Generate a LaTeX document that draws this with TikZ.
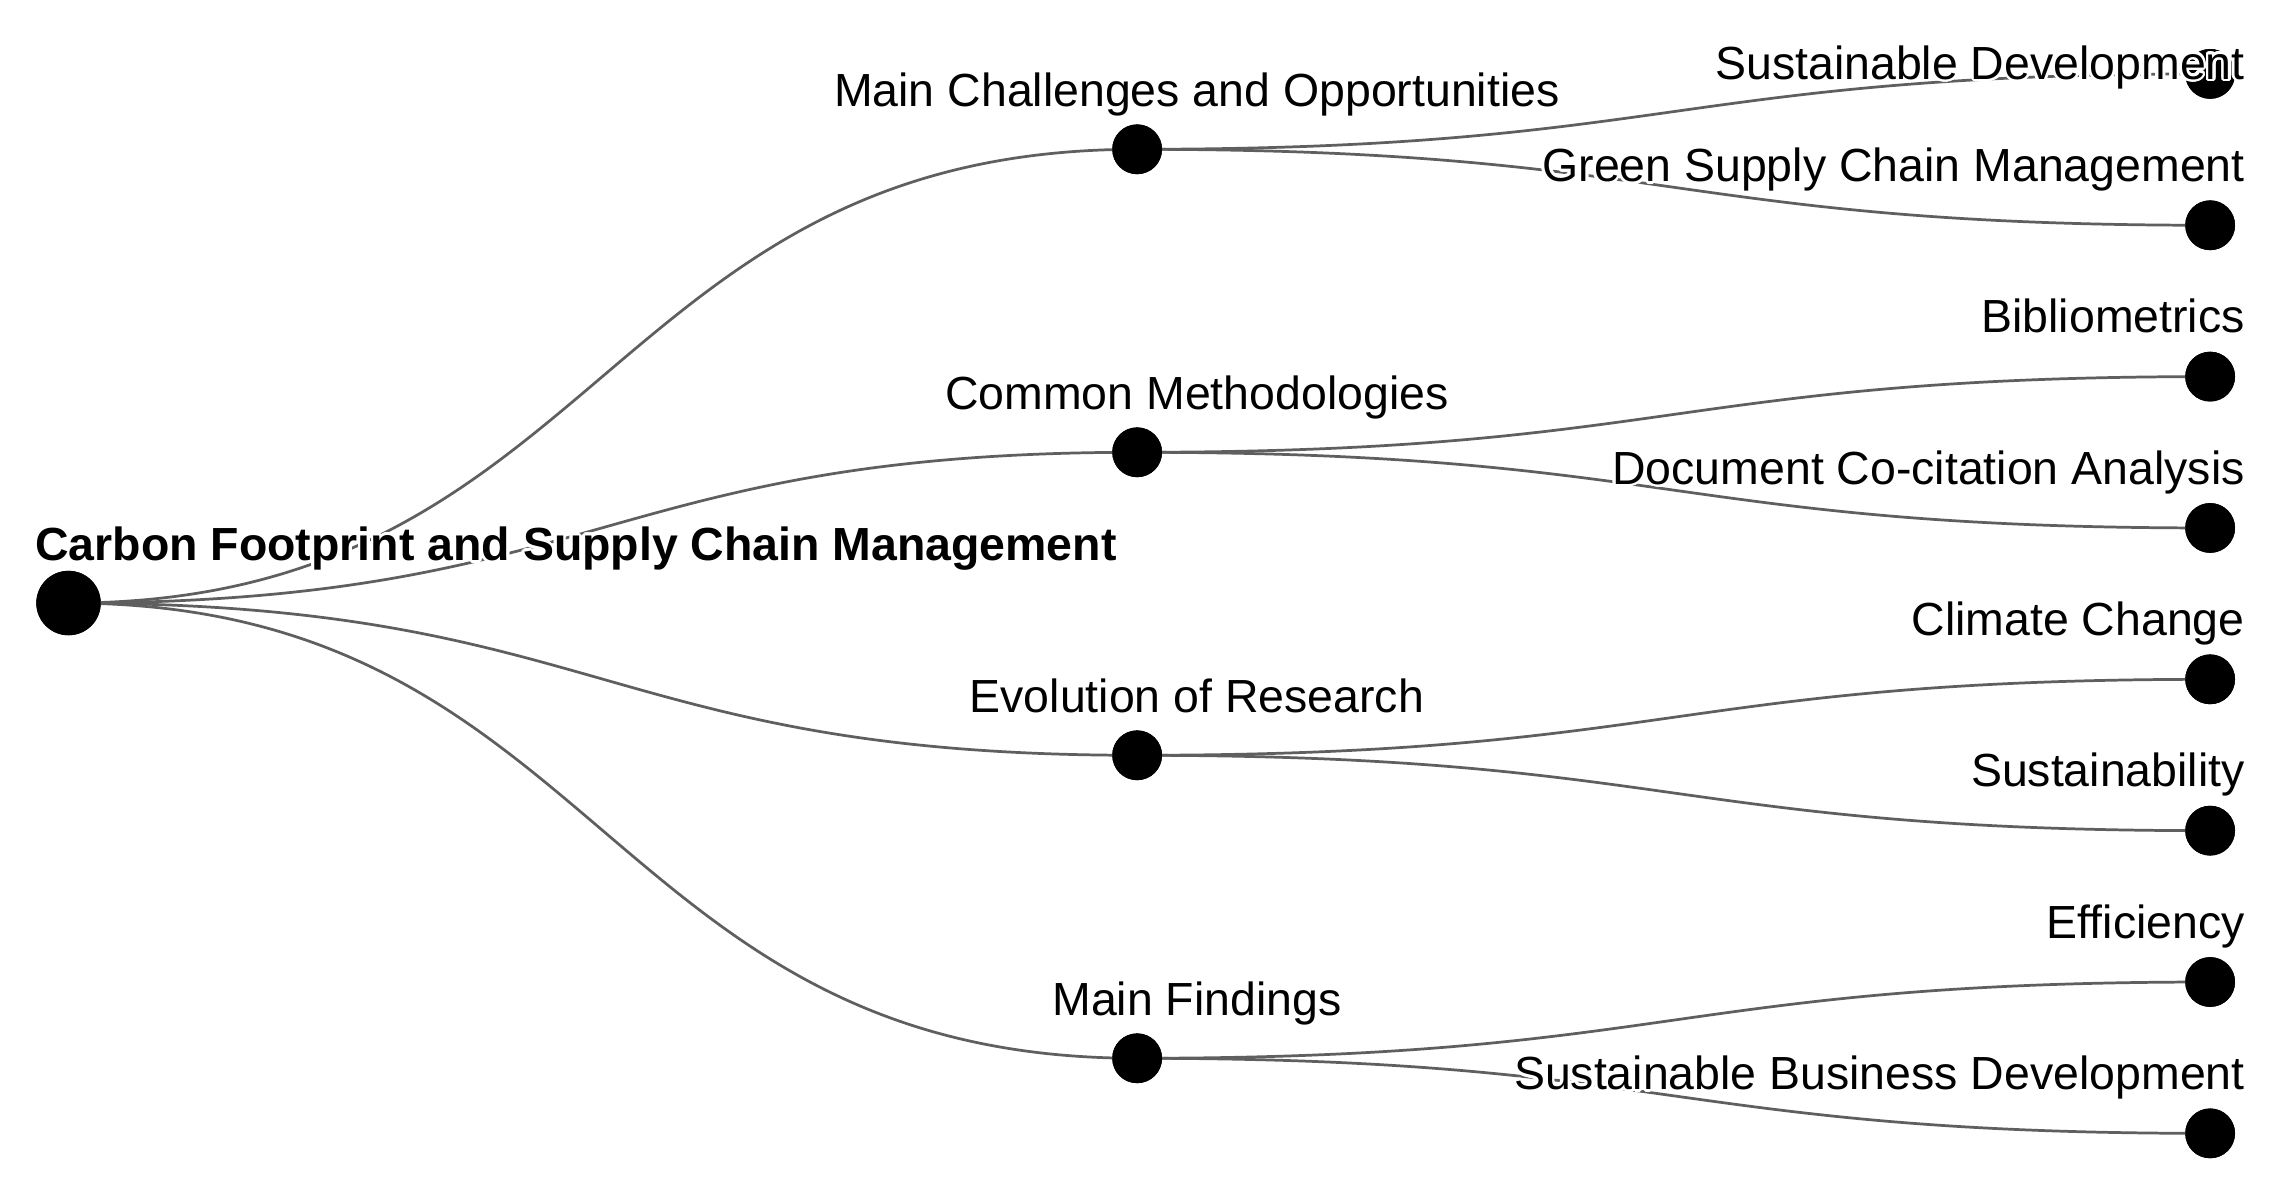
\documentclass[tikz,border=0pt]{standalone}
\usepackage{fontspec}
\setmainfont{Liberation Sans}
\usepackage{contour}
\contourlength{1.4pt}
\contournumber{24}
\definecolor{edgegray}{RGB}{95,95,95}
\newcommand{\halo}[1]{\contour{white}{#1}}
\begin{document}
\begin{tikzpicture}[x=0.747pt,y=-0.75pt,
  rootdot/.style={circle,fill=black,inner sep=0pt,minimum size=33pt},
  dot/.style={circle,fill=black,inner sep=0pt,minimum size=25.5pt},
  lbl/.style={font=\fontsize{23.8pt}{28pt}\selectfont,inner sep=0pt},
  edge/.style={draw=edgegray,line width=1.4pt}]
\fill[white] (0,0) rectangle (1566,816);
\useasboundingbox (0,0) rectangle (1566,816);
% nodes
\node[rootdot] (root) at (47,412) {};
\node[dot] (c1) at (780,102) {};
\node[dot] (c2) at (780,309) {};
\node[dot] (c3) at (780,516) {};
\node[dot] (c4) at (780,723) {};
\node[dot] (l1) at (1516,50.5) {};
\node[dot] (l2) at (1516,153.9) {};
\node[dot] (l3) at (1516,257.3) {};
\node[dot] (l4) at (1516,360.7) {};
\node[dot] (l5) at (1516,464.1) {};
\node[dot] (l6) at (1516,567.5) {};
\node[dot] (l7) at (1516,670.9) {};
\node[dot] (l8) at (1516,774.3) {};
% edges
\foreach \c in {c1,c2,c3,c4}
  \draw[edge] (root.center) .. controls +(366.5,0) and +(-366.5,0) .. (\c.center);
\draw[edge] (c1.center) .. controls +(368,0) and +(-368,0) .. (l1.center);
\draw[edge] (c1.center) .. controls +(368,0) and +(-368,0) .. (l2.center);
\draw[edge] (c2.center) .. controls +(368,0) and +(-368,0) .. (l3.center);
\draw[edge] (c2.center) .. controls +(368,0) and +(-368,0) .. (l4.center);
\draw[edge] (c3.center) .. controls +(368,0) and +(-368,0) .. (l5.center);
\draw[edge] (c3.center) .. controls +(368,0) and +(-368,0) .. (l6.center);
\draw[edge] (c4.center) .. controls +(368,0) and +(-368,0) .. (l7.center);
\draw[edge] (c4.center) .. controls +(368,0) and +(-368,0) .. (l8.center);
% dots on top of edges
\foreach \n in {c1,c2,c3,c4,l1,l2,l3,l4,l5,l6,l7,l8}
  \fill[black] (\n.center) circle (12.75pt);
\fill[black] (root.center) circle (16.5pt);
% labels
\node[lbl,anchor=base west] (troot) at (24,383) {\halo{\textbf{Carbon Footprint and Supply Chain Management}}};
\node[lbl,anchor=base] (tc1) at (821,73) {\halo{Main Challenges and Opportunities}};
\node[lbl,anchor=base] (tc2) at (821,280) {\halo{Common Methodologies}};
\node[lbl,anchor=base] (tc3) at (821,487) {\halo{Evolution of Research}};
\node[lbl,anchor=base] (tc4) at (821,694) {\halo{Main Findings}};
\node[lbl,anchor=base east] (tl1) at (1540,54) {\halo{Sustainable Development}};
\node[lbl,anchor=base east] (tl2) at (1540,124) {\halo{Green Supply Chain Management}};
\node[lbl,anchor=base east] (tl3) at (1540,227.3) {\halo{Bibliometrics}};
\node[lbl,anchor=base east] (tl4) at (1540,330.7) {\halo{Document Co-citation Analysis}};
\node[lbl,anchor=base east] (tl5) at (1540,434.1) {\halo{Climate Change}};
\node[lbl,anchor=base east] (tl6) at (1540,537.5) {\halo{Sustainability}};
\node[lbl,anchor=base east] (tl7) at (1540,640.9) {\halo{Efficiency}};
\node[lbl,anchor=base east] (tl8) at (1540,744.3) {\halo{Sustainable Business Development}};
\end{tikzpicture}
\end{document}
